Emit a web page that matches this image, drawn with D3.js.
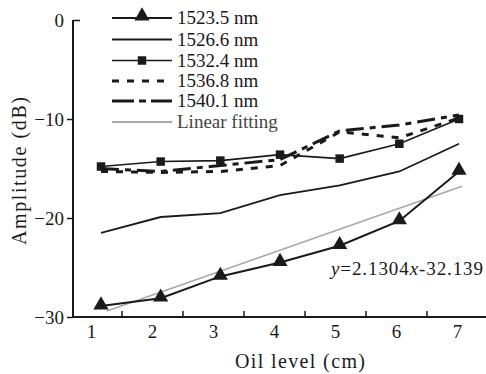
<!DOCTYPE html>
<html><head><meta charset="utf-8">
<script src="https://cdn.jsdelivr.net/npm/d3@7"></script>
<style>
body{margin:0;background:#fff;}
svg{display:block;}
svg text{font-family:"Liberation Serif","Times New Roman",Times,serif !important;}
</style></head>
<body><svg id="c" width="486" height="374"></svg>
<script>
const oil = [1, 2, 3, 4, 5, 6, 7];
const xTickLabels = [1, 2, 3, 4, 5, 6, 7];
const xTickMarks = [1.5, 2.5, 3.5, 4.5, 5.5, 6.5];
const yTicks = [0, -10, -20, -30];
const s1523 = [-28.9, -28.1, -25.9, -24.5, -22.8, -20.3, -15.3];
const s1526 = [-21.5, -19.9, -19.5, -17.7, -16.7, -15.3, -12.5];
const s1532 = [-14.8, -14.3, -14.2, -13.6, -14.0, -12.5, -10.0];
const s1536 = [-15.3, -15.4, -15.3, -14.7, -11.3, -11.9, -9.9];
const s1540 = [-15.0, -15.3, -14.7, -14.1, -11.2, -10.6, -9.6];
const fitX = [1.1, 7.05];
const fitY = [-29.4, -16.8];
const seriesNames = ["1523.5 nm", "1526.6 nm", "1532.4 nm", "1536.8 nm", "1540.1 nm", "Linear fitting"];
const fitLabel = "2.1304";
const fitIntercept = "-32.139";

const svg = d3.select("#c");
const ink = "#1a1a1a";
const xData = d3.scaleLinear().domain([1, 7]).range([101, 459]);
const xAxisS = d3.scaleLinear().domain([1, 7]).range([91, 457]);
const y = d3.scaleLinear().domain([-30, 0]).range([317, 20]);

// axes lines
svg.append("line").attr("x1", 73).attr("x2", 73).attr("y1", y(0)).attr("y2", y(-30))
  .attr("stroke", ink).attr("stroke-width", 2);
svg.append("line").attr("x1", 72).attr("x2", 486).attr("y1", y(-30)).attr("y2", y(-30))
  .attr("stroke", ink).attr("stroke-width", 2);

// y ticks
const yAx = svg.append("g").attr("transform", "translate(73,0)")
  .call(d3.axisLeft(y).tickValues(yTicks).tickSize(6).tickPadding(3).tickFormat(d3.format("d")));
yAx.select(".domain").remove();
yAx.selectAll("line").attr("stroke", ink).attr("stroke-width", 1.5);
yAx.selectAll(".tick").filter(d => d === 0).select("line").attr("x2", 7);
yAx.selectAll("text").attr("fill", ink).attr("font-size", 19);

// x tick marks (inward) and labels
const xm = svg.append("g").attr("transform", `translate(0,${y(-30)})`)
  .call(d3.axisTop(xAxisS).tickValues(xTickMarks).tickSize(6).tickFormat(""));
xm.select(".domain").remove();
xm.selectAll("line").attr("stroke", ink).attr("stroke-width", 1.5);
const xl = svg.append("g").attr("transform", `translate(0,${y(-30)})`)
  .call(d3.axisBottom(xAxisS).tickValues(xTickLabels).tickSize(0).tickPadding(8).tickFormat(d3.format("d")));
xl.select(".domain").remove();
xl.selectAll("text").attr("fill", ink).attr("font-size", 19);

// axis titles
svg.append("text").attr("x", 300).attr("y", 368).attr("text-anchor", "middle")
  .attr("font-size", 20).attr("fill", ink).attr("textLength", 130).text("Oil level (cm)");
svg.append("text").attr("transform", "translate(26,171) rotate(-90)").attr("text-anchor", "middle")
  .attr("font-size", 20).attr("fill", ink).attr("textLength", 148).text("Amplitude (dB)");

const line = d3.line().x((d, i) => xData(oil[i])).y(d => y(d));

// fit
svg.append("path").datum(fitY)
  .attr("d", d3.line().x((d, i) => xData(fitX[i])).y(d => y(d)))
  .attr("fill", "none").attr("stroke", "#a8a8a8").attr("stroke-width", 1.6);

const styles = [
  {data: s1523, w: 2, dash: null, marker: "tri"},
  {data: s1526, w: 1.8, dash: null, marker: null},
  {data: s1532, w: 1.6, dash: null, marker: "sq"},
  {data: s1536, w: 3, dash: "7,8", marker: null},
  {data: s1540, w: 3, dash: "18,6,6,6", marker: null}
];
styles.forEach(s => {
  const p = svg.append("path").datum(s.data).attr("d", line)
    .attr("fill", "none").attr("stroke", ink).attr("stroke-width", s.w);
  if (s.dash) p.attr("stroke-dasharray", s.dash);
});
const tri = d3.symbol().type(d3.symbolTriangle).size(100);
const sq = d3.symbol().type(d3.symbolSquare).size(72);
svg.append("g").selectAll("path").data(s1523).join("path")
  .attr("d", tri).attr("transform", (d, i) => `translate(${xData(oil[i])},${y(d) - 1})`).attr("fill", ink);
svg.append("g").selectAll("path").data(s1532).join("path")
  .attr("d", sq).attr("transform", (d, i) => `translate(${xData(oil[i])},${y(d)})`).attr("fill", ink);

// legend
const legY = [18, 39.5, 60.5, 81, 101, 122];
const lg = svg.append("g");
seriesNames.forEach((name, i) => {
  const yy = legY[i];
  const l = lg.append("line").attr("x1", 112).attr("x2", 172).attr("y1", yy).attr("y2", yy)
    .attr("fill", "none");
  if (i < 5) {
    l.attr("stroke", ink).attr("stroke-width", styles[i].w);
    if (styles[i].dash) l.attr("stroke-dasharray", i === 3 ? "7,8" : "22,5,7,5");
    if (styles[i].marker === "tri") lg.append("path").attr("d", tri).attr("transform", `translate(142,${yy - 2})`).attr("fill", ink);
    if (styles[i].marker === "sq") lg.append("path").attr("d", sq).attr("transform", `translate(142,${yy})`).attr("fill", ink);
  } else {
    l.attr("stroke", "#a8a8a8").attr("stroke-width", 2);
  }
  lg.append("text").attr("x", 177).attr("y", yy + 6).attr("font-size", 19)
    .attr("fill", i < 5 ? ink : "#444").text(name);
});

// equation
const eq = svg.append("text").attr("x", 331).attr("y", 275).attr("font-size", 19).attr("fill", ink)
  .attr("textLength", 152);
eq.append("tspan").attr("font-style", "italic").text("y");
eq.append("tspan").text("=" + fitLabel);
eq.append("tspan").attr("font-style", "italic").text("x");
eq.append("tspan").text(fitIntercept);
</script></body></html>
